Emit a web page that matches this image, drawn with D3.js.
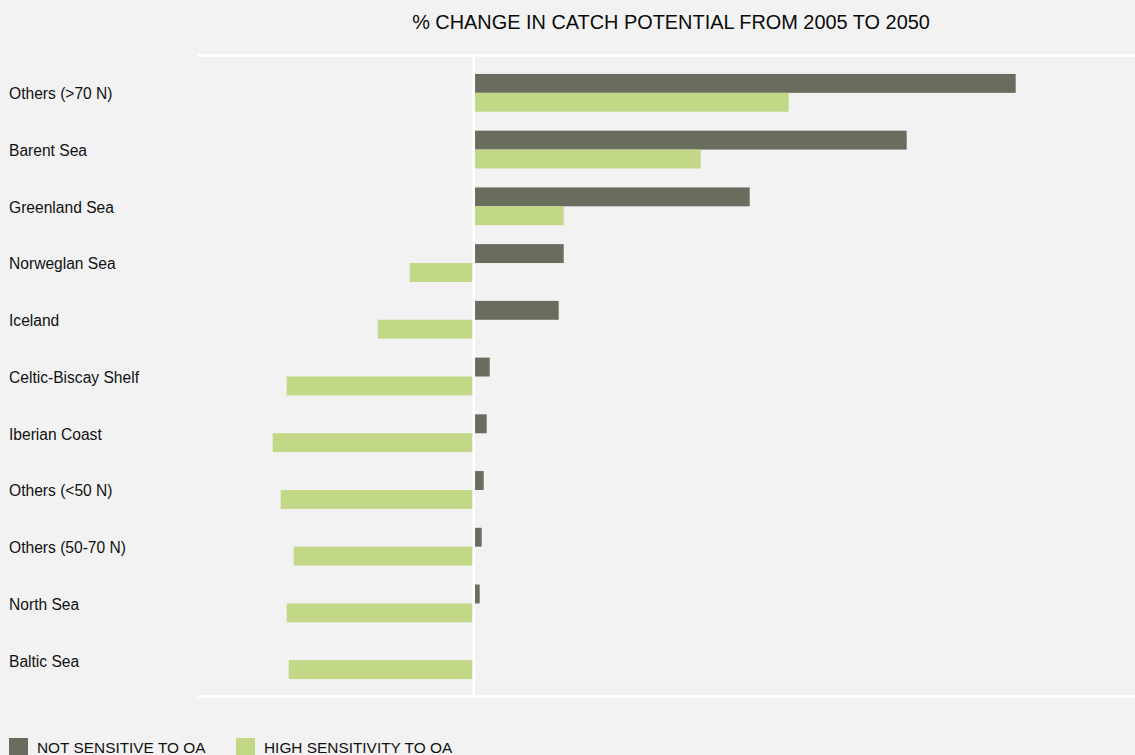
<!DOCTYPE html>
<html>
<head>
<meta charset="utf-8">
<script src="https://d3js.org/d3.v7.min.js"></script>
<style>
  body { margin: 0; background: #f2f2f2; }
  svg { display: block; font-family: "Liberation Sans", Arial, Helvetica, sans-serif; }
</style>
</head>
<body>
<div id="chart"></div>
<script>
// regions, top to bottom
var regions = ["Others (>70 N)", "Barent Sea", "Greenland Sea", "Norweglan Sea", "Iceland",
  "Celtic-Biscay Shelf", "Iberian Coast", "Others (<50 N)", "Others (50-70 N)", "North Sea", "Baltic Sea"];

// % change in catch potential 2005 -> 2050
var notSensitive = [54.2, 43.3, 27.6, 9.0, 8.5, 1.6, 1.3, 1.0, 0.8, 0.6, 0];
var highSensitivity = [31.5, 22.7, 9.0, -6.4, -9.6, -18.7, -20.1, -19.3, -18.0, -18.7, -18.5];

var seriesKeys = ["NOT SENSITIVE TO OA", "HIGH SENSITIVITY TO OA"];
var colors = ["#686d5d", "#c2d886"];

var width = 1135, height = 755;

var svg = d3.select("#chart").append("svg")
    .attr("width", width)
    .attr("height", height);

svg.append("rect")
    .attr("width", width)
    .attr("height", height)
    .attr("fill", "#f2f2f2");

// build rows from the arrays
var rows = regions.map(function(r, i) {
  return { region: r, values: [notSensitive[i], highSensitivity[i]] };
});

var x = d3.scaleLinear()
    .domain([-27.57, 66.13])
    .range([198, width]);

var y = d3.scaleBand()
    .domain(regions)
    .range([55, 698])
    .paddingInner(0.334)
    .paddingOuter(0.334);

var ySub = d3.scaleBand()
    .domain([0, 1])
    .range([0, y.bandwidth()]);

// title
svg.append("text")
    .attr("x", 671)
    .attr("y", 29)
    .attr("text-anchor", "middle")
    .attr("font-size", "19.9px")
    .attr("fill", "#0a0a0a")
    .text("% CHANGE IN CATCH POTENTIAL FROM 2005 TO 2050");

// bars
var groups = svg.selectAll(".group")
    .data(rows)
    .enter().append("g")
    .attr("class", "group")
    .attr("transform", function(d) { return "translate(0," + y(d.region) + ")"; });

groups.selectAll("rect")
    .data(function(d) { return d.values.map(function(v, k) { return { v: v, k: k }; }); })
    .enter().append("rect")
    .attr("x", function(d) { return x(Math.min(0, d.v)); })
    .attr("width", function(d) { return Math.abs(x(d.v) - x(0)); })
    .attr("y", function(d) { return ySub(d.k); })
    .attr("height", ySub.bandwidth())
    .attr("fill", function(d) { return colors[d.k]; });

// region labels
svg.selectAll(".label")
    .data(regions)
    .enter().append("text")
    .attr("class", "label")
    .attr("x", 9)
    .attr("y", function(d) { return y(d) + y.bandwidth() / 2 + 1; })
    .attr("dy", "0.35em")
    .attr("font-size", "15.6px")
    .attr("fill", "#111")
    .text(function(d) { return d; });

// white frame lines
svg.append("line")
    .attr("x1", 198).attr("x2", width)
    .attr("y1", 55.3).attr("y2", 55.3)
    .attr("stroke", "#fff").attr("stroke-width", 2.7);

svg.append("line")
    .attr("x1", 198).attr("x2", width)
    .attr("y1", 696.3).attr("y2", 696.3)
    .attr("stroke", "#fff").attr("stroke-width", 2.7);

svg.append("line")
    .attr("x1", x(0)).attr("x2", x(0))
    .attr("y1", 55).attr("y2", 697)
    .attr("stroke", "#fff").attr("stroke-width", 2.7);

// legend
var legend = svg.selectAll(".legend")
    .data(seriesKeys)
    .enter().append("g")
    .attr("class", "legend")
    .attr("transform", function(d, i) { return "translate(" + [9, 236][i] + ",738)"; });

legend.append("rect")
    .attr("width", 19)
    .attr("height", 19)
    .attr("fill", function(d, i) { return colors[i]; });

legend.append("text")
    .attr("x", 28)
    .attr("y", 15.3)
    .attr("font-size", "15.4px")
    .attr("fill", "#111")
    .text(function(d) { return d; });
</script>
</body>
</html>
